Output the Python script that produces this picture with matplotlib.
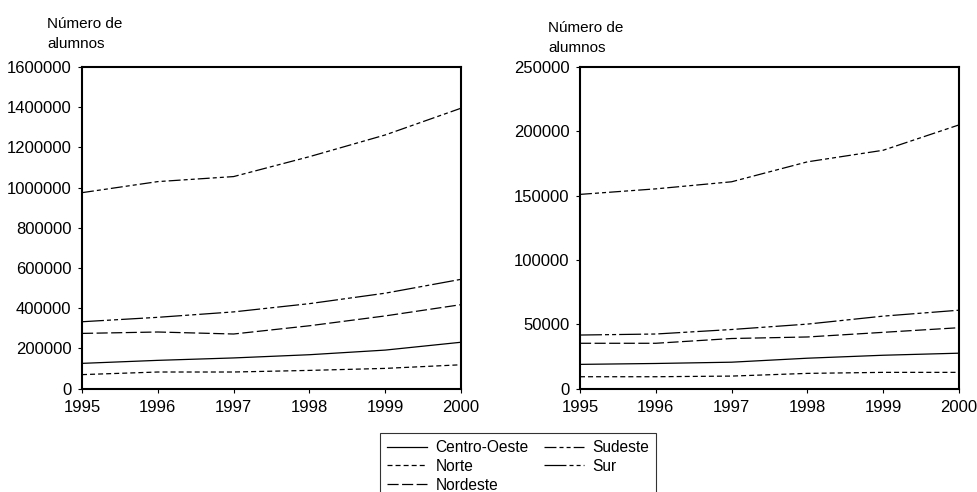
import matplotlib
matplotlib.use("Agg")
import matplotlib.pyplot as plt
from matplotlib.ticker import FixedLocator, FuncFormatter

plt.rcParams['font.family'] = ['Liberation Sans', 'DejaVu Sans']
plt.rcParams['lines.scale_dashes'] = False

years = [1995, 1996, 1997, 1998, 1999, 2000]

# left panel (scale 0..1 600 000)
left = {
    'Centro-Oeste': [126000, 141000, 153000, 169000, 192000, 231000],
    'Norte': [70000, 83000, 83000, 91000, 101000, 119000],
    'Nordeste': [275000, 282000, 272000, 313000, 362000, 418000],
    'Sudeste': [975000, 1030000, 1055000, 1154000, 1262000, 1395000],
    'Sur': [333000, 355000, 382000, 423000, 475000, 544000],
}

# right panel (scale 0..250 000)
right = {
    'Centro-Oeste': [18900, 19600, 20600, 23700, 26000, 27600],
    'Norte': [9300, 9300, 9800, 11900, 12700, 12700],
    'Nordeste': [35300, 35300, 39000, 40200, 43800, 47400],
    'Sudeste': [151000, 155300, 160800, 176300, 185300, 205000],
    'Sur': [41700, 42500, 46000, 50200, 56400, 61000],
}

left_ticks = [0, 200000, 400000, 600000, 800000, 1000000, 1200000, 1400000, 1600000]
right_ticks = [0, 50000, 100000, 150000, 200000, 250000]

styles = {
    'Centro-Oeste': '-',
    'Norte': (0, (3.6, 2.2)),
    'Nordeste': (0, (8.0, 2.5)),
    'Sudeste': (0, (8.6, 2.2, 2.9, 2.2, 2.9, 2.2)),
    'Sur': (0, (15.8, 2.2, 2.9, 2.2, 2.9, 2.2)),
}
order = ['Centro-Oeste', 'Norte', 'Nordeste', 'Sudeste', 'Sur']

fig = plt.figure(figsize=(9.78, 4.92), dpi=100)
ax1 = fig.add_axes([82 / 978, 1 - 388.7 / 492, 379 / 978, 321.7 / 492])
ax2 = fig.add_axes([580 / 978, 1 - 388.7 / 492, 379 / 978, 321.7 / 492])


def draw(ax, data, ticks):
    handles = []
    for name in order:
        h, = ax.plot(years, data[name], color='black', lw=0.9,
                     linestyle=styles[name], label=name)
        handles.append(h)
    ax.set_xlim(1995, 2000)
    ax.set_ylim(ticks[0], ticks[-1])
    ax.yaxis.set_major_locator(FixedLocator(ticks))
    ax.yaxis.set_major_formatter(FuncFormatter(lambda v, p: f"{int(v)}"))
    ax.set_xticks(years)
    ax.tick_params(direction='out', length=3, width=0.8, labelsize=12,
                   top=False, right=False)
    ax.tick_params(axis='y', pad=4.5)
    ax.tick_params(axis='x', pad=5)
    for s in ax.spines.values():
        s.set_linewidth(1.5)
    return handles


handles = draw(ax1, left, left_ticks)
draw(ax2, right, right_ticks)

fig.text(47 / 978, 1 - 17 / 492, "Número de\nalumnos", fontsize=11,
         va='top', ha='left', linespacing=1.58)
fig.text(548 / 978, 1 - 21 / 492, "Número de\nalumnos", fontsize=11,
         va='top', ha='left', linespacing=1.58)

# legend: column 1 Centro-Oeste, Norte, Nordeste; column 2 Sudeste, Sur
leg = fig.legend(handles, order, ncol=2, loc='upper left',
                 bbox_to_anchor=(380 / 978, 1 - 433 / 492),
                 fontsize=11.2, frameon=True, fancybox=False, edgecolor='black',
                 handlelength=2.55, handletextpad=0.56, columnspacing=1.0,
                 labelspacing=0.25, borderpad=0.45, borderaxespad=0)
leg.get_frame().set_linewidth(0.8)

fig.savefig("out.png", dpi=100)
